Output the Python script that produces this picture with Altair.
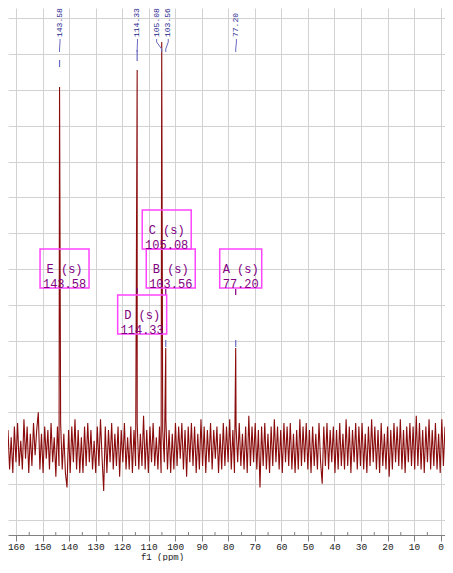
import altair as alt
import pandas as pd

# ---------------- data ----------------
# sampled ppm grid of the spectrum (left edge to right edge of the view)
PPM_START = 163.0
PPM_STOP = -4.66
# baseline noise readings (intensity units, one grid row = 10 units)
NOISE = [
    5, -6, 3, -7, 6, -4, 7, -5, 2, -6, 8, -3, 6, -7, 4, -5, 7, -2, 5, 10,
    -6, 4, -7, 6, -3, 5, -6, 7, -4, 3, -8, 6, -5, 7, -6, 4, -7, -11, 5, -7,
    6, -4, 8, -6, 5, -7, 3, -7, 6, -5, 7, -4, 5, -6, 2, -7, 6, -5, 8, -3,
    -12, 6, -7, 5, -4, 7, -6, 4, -5, 6, -8, 5, -4, 7, -6, 3, -6, 6, -7, 5,
    -5, 7, -6, 4, -5, 9, -6, 5, -7, 6, -4, 7, -5, 3, -6, 6, -7, 5, -4, 8,
    -6, 5, -7, 4, -6, 7, -5, 6, -3, 7, -6, 5, -8, 6, -4, 7, -5, 6, -7, 4,
    -6, 8, -5, 6, -7, 5, -4, 7, -6, 5, -3, 6, -7, 4, -6, 7, -5, 6, -4, 8,
    -6, 5, -7, 6, -4, 7, -5, 4, -6, 6, -7, 9, -5, 6, -4, 7, -6, 5, -11, 6,
    -5, 7, -6, 4, -7, 6, -5, 8, -4, 6, -6, 5, -7, 7, -4, 6, -5, 7, -6, 4,
    -7, 5, -6, 8, -5, 6, -4, 7, -6, 5, -7, 6, -5, 4, -6, 7, -4, -10, 6, -5,
    7, -6, 5, -4, 6, -7, 5, -6, 7, -5, 4, -6, 8, -5, 6, -7, 5, -4, 7, -6,
    6, -5, 7, -6, 4, -7, 6, -5, 8, -4, 6, -6, 5, -7, 7, -5, 4, -6, 6, -8,
    5, -6, 7, -4, 6, -5, 8, -6, 5, -7, 6, -4, 7, -5, 6, -6, 9, -5, 7, -6,
    5, -7, 6, -4, 8, -6, 5, -5, 7, -6, 4, -7, 8, -5, 6, -6, 13, -7, 9, -5,
]

PEAK_PPM = [143.58, 114.33, 105.08, 103.56, 77.20]
PEAK_HEIGHT = [100.8, 105.6, 113.4, 27.9, 27.9]
PEAK_LETTER = ["E", "D", "C", "B", "A"]
PEAK_TEXT = ["143.58", "114.33", "105.08", "103.56", "77.20"]

X_TICKS = list(range(0, 161, 10))
X_MINOR = list(range(5, 161, 10))
Y_GRID = list(range(-20, 121, 10))

# ---------------- layout ----------------
KPX = 2.654                               # px per ppm in the reference
W, H = 437, 527
VIEW_RIGHT = PPM_START - W / KPX          # right edge of the visible window
Y_MIN, Y_MAX = -24.3, 122.9
PXU = H / (Y_MAX - Y_MIN)                 # px per intensity unit


def ydata(rel_px):
    return Y_MAX - rel_px / PXU


def ppm_shift(ppm, px):
    return ppm - px / KPX


FONT = "Liberation Mono"
RED = "#8a0c0c"
BLUE_TXT = "#1c1c8e"
BLUE_LINE = "#6a6ac0"
MAGENTA = "#ff44ff"
PURPLE = "#800080"

xscale = alt.Scale(domain=[VIEW_RIGHT, PPM_START], reverse=True, nice=False, zero=False)
yscale = alt.Scale(domain=[Y_MIN, Y_MAX], nice=False, zero=False)

xaxis = alt.Axis(
    values=X_TICKS, grid=True, gridColor="#d2d2d2", gridWidth=1,
    domainColor="#808080", domainWidth=1.2, tickColor="#808080", tickSize=6,
    labelFont=FONT, labelFontSize=9.5, labelColor="#222222", labelPadding=0,
    labelFlush=False, labelOverlap=False,
    title="f1 (ppm)", titleFont=FONT, titleFontSize=9,
    titleFontWeight="normal", titleColor="#222222", titleX=154, titleY=26,
    titleBaseline="bottom", titleAnchor="start", titleAlign="center",
)
yaxis = alt.Axis(values=Y_GRID, grid=True, gridColor="#d2d2d2", labels=False,
                 ticks=False, domain=False, title=None)


def X(field):
    return alt.X(field, scale=xscale, axis=xaxis)


def Y(field):
    return alt.Y(field, scale=yscale, axis=yaxis)


# spectrum
n = len(NOISE)
step = (PPM_START - PPM_STOP) / (n - 1)
spec = pd.DataFrame({"ppm": [PPM_START - i * step for i in range(n)], "I": NOISE})
spec = pd.concat([spec, pd.DataFrame({"ppm": PEAK_PPM, "I": PEAK_HEIGHT})])
spec = spec.sort_values("ppm", ascending=False).reset_index(drop=True)

line = alt.Chart(spec).mark_line(color=RED, strokeWidth=1.1, clip=True).encode(
    x=X("ppm:Q"), y=Y("I:Q"), order="ppm:Q",
)

# multiplet boxes
box_top = {"E": 241, "C": 202, "B": 241, "A": 241, "D": 287}
rows = []
for p, letter, txt in zip(PEAK_PPM, PEAK_LETTER, PEAK_TEXT):
    w = 7 * len(txt) + 7
    top = box_top[letter]
    rows.append({
        "x1": ppm_shift(p, -(w / 2 - 5)), "x2": ppm_shift(p, w / 2 + 5),
        "xc": ppm_shift(p, 5),
        "y1": ydata(top), "y2": ydata(top + 39), "yc": ydata(top + 20),
        "label": f"{letter} (s)\n{txt}",
    })
boxes = pd.DataFrame(rows)

rect = alt.Chart(boxes).mark_rect(filled=False, stroke=MAGENTA, strokeWidth=1.5).encode(
    x=X("x1:Q"), x2="x2:Q", y=Y("y1:Q"), y2="y2:Q",
)
boxtext = alt.Chart(boxes).mark_text(
    lineBreak="\n", lineHeight=15, font=FONT, fontSize=12, color=PURPLE,
    align="center", baseline="middle",
).encode(x=X("xc:Q"), y=Y("yc:Q"), text="label:N")

# peak labels on top (vertical)
label_off = [0.5, 0.3, -5.1, 2.5, 0.7]
tops = pd.DataFrame({
    "lx": [ppm_shift(p, o) for p, o in zip(PEAK_PPM, label_off)],
    "t": PEAK_TEXT,
})
toptext = alt.Chart(tops).mark_text(
    angle=270, align="left", baseline="middle", font=FONT, fontSize=8, color=BLUE_TXT,
).encode(x=X("lx:Q"), y=alt.value(29), text="t:N")

# connectors from labels to peaks
con = []
for i, (p, o) in enumerate(zip(PEAK_PPM, label_off)):
    lx = ppm_shift(p, o)
    for j, (xx, ry) in enumerate([(lx, 31), (lx, 34), (p, 41), (p, 44)]):
        con.append({"id": i, "o": j, "x": xx, "y": ydata(ry)})
connectors = alt.Chart(pd.DataFrame(con)).mark_line(color=BLUE_LINE, strokeWidth=1).encode(
    x=X("x:Q"), y=Y("y:Q"), detail="id:N", order="o:Q",
)

# dashed remnants above the peaks and between boxes and peaks
dashes = [
    (143.58, 52, 59, BLUE_LINE), (114.33, 42, 53, BLUE_LINE),
    (114.33, 280, 285, PURPLE), (103.56, 281, 287, PURPLE), (77.20, 281, 287, PURPLE),
    (103.56, 332, 339, BLUE_LINE), (77.20, 332, 339, BLUE_LINE),
]
dash_df = pd.DataFrame([
    {"x": p, "ya": ydata(a), "yb": ydata(b), "c": c} for p, a, b, c in dashes
])
dash_layer = alt.Chart(dash_df).mark_rule(strokeWidth=1.2).encode(
    x=X("x:Q"), y=Y("ya:Q"), y2="yb:Q", color=alt.Color("c:N", scale=None),
)

minor = alt.Chart(pd.DataFrame({"m": X_MINOR})).mark_rule(color="#808080", strokeWidth=1).encode(
    x=X("m:Q"), y=alt.value(H - 3), y2=alt.value(H),
)

chart = alt.layer(line, connectors, dash_layer, toptext, rect, boxtext, minor).properties(
    width=W, height=H, background="white",
    autosize=alt.AutoSizeParams(type="none"),
    padding={"left": 0, "right": 0, "top": 0, "bottom": 26},
).configure_view(stroke=None)

chart.save("out.html", embed_options={"renderer": "svg", "actions": False})
